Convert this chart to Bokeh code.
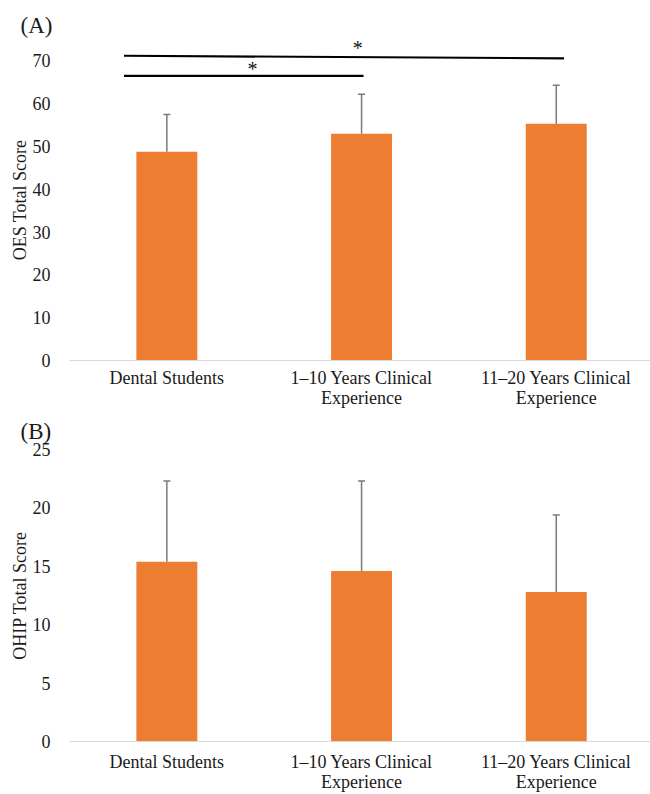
from bokeh.plotting import figure
from bokeh.models import Range1d, FixedTicker, Whisker, ColumnDataSource, Label, TeeHead
from bokeh.layouts import column
from bokeh.embed import file_html
from bokeh.resources import INLINE

# ---------------- data ----------------
groups = ["Dental Students", "1\u201310 Years Clinical\nExperience", "11\u201320 Years Clinical\nExperience"]
group_idx = [0, 1, 2]

oes_mean = [48.8, 53.0, 55.3]
oes_sd = [8.7, 9.2, 9.0]
oes_ticks = [0, 10, 20, 30, 40, 50, 60, 70]

ohip_mean = [15.4, 14.6, 12.8]
ohip_sd = [6.9, 7.7, 6.6]
ohip_ticks = [0, 5, 10, 15, 20, 25]

# significance brackets (panel A), in category-index units
sig_x0 = [-0.22, -0.22]
sig_x1 = [2.04, 1.01]
sig_y0 = [71.2, 66.5]
sig_y1 = [70.6, 66.5]
sig_star_x = [0.98, 0.44]
sig_star_y = [72.9, 68.0]

FONT = "Liberation Serif"
ORANGE = "#ED7D31"
ERR = "#7a7a7a"
TXT = "#1a1a1a"


def make_panel(means, sds, ticks, ymax, height, top_border, ylabel, tag, tag_standoff, standoff):
    src = ColumnDataSource(dict(x=group_idx, top=means,
                                upper=[m + s for m, s in zip(means, sds)]))
    p = figure(width=650, height=height, output_backend="svg", toolbar_location=None,
               x_range=Range1d(-0.5, 2.484), y_range=Range1d(0, ymax),
               min_border_left=69, min_border_right=0,
               min_border_top=top_border, min_border_bottom=0)
    p.outline_line_color = None
    p.xgrid.visible = False
    p.ygrid.visible = False

    p.title.text = tag
    p.title.align = "left"
    p.title.offset = -49
    p.title.standoff = tag_standoff
    p.title.text_font = FONT
    p.title.text_font_size = "23px"
    p.title.text_font_style = "normal"
    p.title.text_color = TXT

    p.vbar(x="x", top="top", width=0.313, source=src, fill_color=ORANGE, line_color=None)
    w = Whisker(base="x", lower="top", upper="upper", source=src,
                line_color=ERR, line_width=1.5,
                upper_head=TeeHead(size=7, line_color=ERR, line_width=1.5),
                lower_head=None)
    p.add_layout(w)

    # y axis
    p.yaxis.ticker = FixedTicker(ticks=ticks)
    p.yaxis.axis_line_color = None
    p.yaxis.major_tick_line_color = None
    p.yaxis.minor_tick_line_color = None
    p.yaxis.major_label_standoff = 13
    p.yaxis.major_label_text_font = FONT
    p.yaxis.major_label_text_font_size = "18px"
    p.yaxis.major_label_text_color = TXT
    p.yaxis.axis_label = ylabel
    p.yaxis.axis_label_text_font = FONT
    p.yaxis.axis_label_text_font_size = "18px"
    p.yaxis.axis_label_text_font_style = "normal"
    p.yaxis.axis_label_text_color = TXT
    p.yaxis.axis_label_standoff = 0

    # x axis
    p.xaxis.ticker = FixedTicker(ticks=group_idx)
    p.xaxis.major_label_overrides = {i: g for i, g in zip(group_idx, groups)}
    p.xaxis.axis_line_color = "#d9d9d9"
    p.xaxis.axis_line_width = 1.2
    p.xaxis.major_tick_line_color = None
    p.xaxis.minor_tick_line_color = None
    p.xaxis.major_label_standoff = standoff
    p.xaxis.major_label_text_font = FONT
    p.xaxis.major_label_text_font_size = "18px"
    p.xaxis.major_label_text_line_height = 1.0
    p.xaxis.major_label_text_color = TXT
    return p


pA = make_panel(oes_mean, oes_sd, oes_ticks, 75, 410, 39,
                "OES Total Score", "(A)", 4, 1)
pA.segment(x0=sig_x0, y0=sig_y0, x1=sig_x1, y1=sig_y1, line_color="black", line_width=2.2)
for sx, sy in zip(sig_star_x, sig_star_y):
    pA.add_layout(Label(x=sx, y=sy, text="*", text_font=FONT, text_font_size="20px",
                        text_align="center", text_baseline="middle", text_color="#111111"))

pB = make_panel(ohip_mean, ohip_sd, ohip_ticks, 25, 384, 37,
                "OHIP Total Score", "(B)", 12, 4)

layout = column(pA, pB, spacing=0)
open("out.html", "w").write(file_html(layout, INLINE))
